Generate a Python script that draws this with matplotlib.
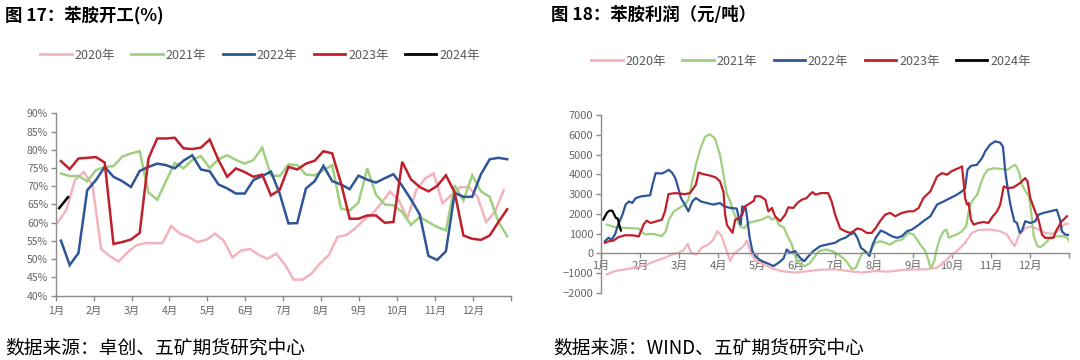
import numpy as np
import matplotlib
matplotlib.use("Agg")
import matplotlib.pyplot as plt
from matplotlib.lines import Line2D

plt.rcParams['font.family'] = ['Noto Sans CJK SC', 'DejaVu Sans']
plt.rcParams['axes.unicode_minus'] = True

# ---------------- data: 苯胺开工 (weekly, %) ----------------
years = ['2020年', '2021年', '2022年', '2023年', '2024年']
colors = ['#f2b3bd', '#9fd07f', '#2e5597', '#c0202b', '#000000']
months = ['1月', '2月', '3月', '4月', '5月', '6月', '7月', '8月', '9月', '10月', '11月', '12月']

rate_2020 = [60.0, 63.4, 71.7, 73.9, 70.3, 52.8, 50.8, 49.4, 51.9, 53.8, 54.4, 54.4, 54.4,
             59.1, 57.0, 56.1, 54.7, 55.3, 57.0, 55.1, 50.5, 52.4, 52.8, 51.2, 50.1, 51.5,
             48.5, 44.4, 44.4, 46.0, 48.8, 51.1, 56.1, 56.6, 58.4, 60.7, 62.5, 65.3, 68.5,
             66.2, 61.2, 68.9, 72.1, 73.5, 65.3, 67.6, 69.7, 69.8, 67.1, 60.2, 63.0, 68.9]
rate_2021 = [73.5, 72.8, 72.8, 71.4, 74.4, 75.3, 75.5, 78.1, 79.0, 79.6, 68.3, 66.3, 71.4,
             76.4, 74.9, 77.2, 78.3, 75.0, 77.4, 78.5, 77.2, 76.2, 77.2, 80.6, 73.0, 72.8,
             76.0, 75.8, 73.2, 73.0, 74.4, 75.8, 63.9, 63.4, 65.5, 74.9, 67.7, 65.0, 64.8,
             62.9, 59.4, 61.6, 60.2, 58.8, 57.9, 70.3, 66.1, 73.0, 68.6, 67.1, 60.2, 56.3]
rate_2022 = [55.1, 48.4, 51.7, 68.9, 71.7, 75.3, 72.6, 71.4, 69.8, 74.2, 75.3, 76.2, 75.8,
             74.9, 77.0, 78.5, 74.6, 74.1, 70.5, 69.4, 68.0, 68.0, 71.7, 72.8, 74.0, 68.0,
             59.8, 59.9, 69.4, 71.4, 75.6, 71.4, 70.5, 69.2, 72.9, 71.8, 71.0, 72.2, 73.3,
             70.1, 66.4, 62.3, 50.9, 49.8, 52.2, 68.2, 67.1, 67.1, 73.3, 77.4, 77.8, 77.4]
rate_2023 = [76.9, 74.7, 77.6, 77.8, 78.0, 76.5, 54.2, 54.7, 55.4, 57.2, 77.6, 83.1, 83.1,
             83.3, 80.4, 80.2, 80.6, 82.8, 77.2, 72.6, 74.9, 73.9, 72.6, 73.2, 67.5, 69.0,
             75.3, 74.6, 76.2, 77.0, 79.6, 79.0, 70.9, 61.1, 61.1, 62.0, 62.0, 60.0, 60.2,
             76.7, 71.9, 69.8, 68.6, 70.1, 73.0, 68.3, 56.5, 55.6, 55.3, 56.5, 60.2, 63.7]
rate_2024 = [64.0, 67.0]
week_offset = [0.2, 0.6, 0.6, 0.6, 0.4]

# ---------------- data: 苯胺利润 (元/吨), month position / value ----------------
p2020_m = [0.15, 0.36, 0.62, 0.87, 1.13, 1.38, 1.64, 1.81, 1.98, 2.11, 2.22, 2.31, 2.45, 2.58,
           2.75, 2.88, 2.98, 3.08, 3.18, 3.31, 3.39, 3.50, 3.65, 3.74, 3.85, 3.95, 4.16, 4.38,
           4.63, 4.97, 5.32, 5.66, 6.00, 6.34, 6.68, 7.03, 7.37, 7.71, 8.05, 8.35, 8.61, 8.78,
           8.95, 9.12, 9.33, 9.50, 9.68, 9.97, 10.23, 10.40, 10.53, 10.60, 10.70, 10.87, 11.04,
           11.21, 11.38, 11.55, 11.72, 11.89, 12.0]
p2020_v = [-1060, -890, -805, -720, -590, -390, -220, -50, 30, 150, 490, 30, -50, 285,
           450, 700, 1120, 920, 370, -390, -50, 120, 370, 650, -20, -350, -550, -755,
           -890, -970, -890, -820, -805, -890, -970, -890, -920, -840, -805, -805, -720, -470,
           -130, 120, 540, 1040, 1190, 1210, 1120, 960, 540, 370, 870, 1290, 1360,
           1210, 1040, 990, 1160, 1490, 1510]

p2021_m = [0.15, 0.36, 0.62, 0.96, 1.13, 1.34, 1.56, 1.66, 1.74, 1.87, 2.03, 2.15, 2.24, 2.32,
           2.43, 2.55, 2.67, 2.79, 2.92, 3.05, 3.14, 3.22, 3.31, 3.39, 3.48, 3.58, 3.67, 3.78,
           3.95, 4.12, 4.29, 4.38, 4.48, 4.56, 4.68, 4.78, 4.89, 4.99, 5.10, 5.23, 5.36, 5.49,
           5.59, 5.76, 5.93, 6.10, 6.27, 6.43, 6.53, 6.62, 6.70, 6.87, 7.03, 7.15, 7.28, 7.41,
           7.54, 7.71, 7.88, 8.01, 8.18, 8.31, 8.40, 8.44, 8.48, 8.54, 8.61, 8.69, 8.78, 8.85,
           8.91, 8.99, 9.12, 9.25, 9.36, 9.42, 9.50, 9.64, 9.72, 9.82, 9.91, 10.06, 10.23,
           10.41, 10.54, 10.62, 10.71, 10.79, 10.88, 10.97, 11.03, 11.09, 11.18, 11.26, 11.35,
           11.51, 11.68, 11.85, 11.94, 12.0]
p2021_v = [1460, 1330, 1290, 1260, 960, 990, 870, 1120, 1710, 2130, 2330, 2470, 2720, 3470,
           4480, 5320, 5910, 6020, 5820, 4970, 3980, 3050, 2630, 2130, 1710, 1330, 1290, 1540,
           1630, 1710, 1880, 1710, 1800, 1430, 1330, 870, 450, -220, -550, -640, -470, -130,
           120, 200, 120, -80, -350, -800, -720, -300, 30, 30, 540, 620, 540, 450,
           620, 700, 1040, 960, 450, 120, -390, -720, -640, -390, 285, 790, 1120, 1210,
           790, 870, 960, 1120, 1380, 2130, 2630, 2970, 3470, 3980, 4230, 4310, 4280,
           4230, 4400, 4480, 4140, 3470, 3140, 2890, 1960, 870, 370, 320, 450,
           790, 870, 870, 790, 620]

p2022_m = [0.10, 0.19, 0.27, 0.36, 0.44, 0.55, 0.63, 0.72, 0.80, 0.89, 1.04, 1.26, 1.32, 1.40,
           1.56, 1.66, 1.74, 1.83, 1.91, 1.98, 2.05, 2.14, 2.24, 2.34, 2.43, 2.56, 2.71, 2.88,
           3.05, 3.16, 3.31, 3.48, 3.54, 3.58, 3.62, 3.71, 3.75, 3.81, 3.88, 3.97, 4.12, 4.29,
           4.42, 4.55, 4.68, 4.76, 4.85, 4.97, 5.10, 5.21, 5.32, 5.44, 5.62, 5.79, 6.00, 6.13,
           6.26, 6.38, 6.49, 6.57, 6.66, 6.74, 6.83, 6.88, 6.96, 7.04, 7.17, 7.30, 7.45, 7.58,
           7.71, 7.84, 7.97, 8.15, 8.26, 8.44, 8.61, 8.78, 8.95, 9.12, 9.25, 9.33, 9.39, 9.48,
           9.63, 9.76, 9.85, 9.97, 10.10, 10.23, 10.30, 10.36, 10.42, 10.49, 10.54, 10.59,
           10.66, 10.73, 10.79, 10.87, 11.00, 11.13, 11.21, 11.34, 11.51, 11.68, 11.76, 11.81,
           11.89, 12.0]
p2022_v = [620, 790, 700, 960, 1460, 1960, 2470, 2630, 2550, 2800, 2890, 2940, 3470, 4060,
           4040, 4140, 4230, 4060, 3780, 3300, 2800, 2500, 2130, 2630, 2800, 2630, 2550, 2470,
           2550, 2380, 2300, 2270, 1710, 1460, 2380, 2300, 1710, 790, 120, -180, -390, -520,
           -640, -470, -250, 200, 30, 120, -220, -390, -130, 120, 370, 450, 540, 700,
           790, 960, 1040, 790, 285, 170, 0, -130, 450, 790, 1160, 1040, 870, 790,
           870, 1120, 1210, 1460, 1630, 1880, 2470, 2630, 2800, 2970, 3140, 3300, 4230, 4430,
           4480, 4810, 5180, 5500, 5670, 5600, 5400, 4140, 3300, 2470, 2050, 1630,
           1540, 1040, 1160, 1630, 1540, 1630, 1960, 2050, 2130, 2210, 1710, 1120,
           960, 920]

p2023_m = [0.10, 0.21, 0.32, 0.44, 0.62, 0.80, 0.97, 1.09, 1.17, 1.27, 1.43, 1.56, 1.64, 1.73,
           1.90, 2.15, 2.28, 2.34, 2.43, 2.50, 2.62, 2.79, 2.94, 3.05, 3.14, 3.18, 3.23, 3.31,
           3.37, 3.44, 3.54, 3.62, 3.69, 3.79, 3.92, 3.95, 4.08, 4.21, 4.29, 4.38, 4.46, 4.59,
           4.72, 4.80, 4.93, 5.03, 5.15, 5.27, 5.36, 5.42, 5.50, 5.63, 5.82, 5.91, 6.00, 6.13,
           6.26, 6.38, 6.47, 6.56, 6.68, 6.81, 6.94, 7.04, 7.15, 7.28, 7.41, 7.54, 7.71, 7.88,
           8.01, 8.14, 8.26, 8.44, 8.61, 8.74, 8.87, 8.97, 9.06, 9.16, 9.25, 9.29, 9.33, 9.38,
           9.42, 9.48, 9.55, 9.67, 9.80, 9.93, 10.01, 10.15, 10.23, 10.32, 10.42, 10.57, 10.74,
           10.87, 10.93, 11.00, 11.09, 11.21, 11.30, 11.38, 11.59, 11.68, 11.81, 11.94]
p2023_v = [540, 620, 650, 820, 920, 920, 860, 1460, 1660, 1540, 1630, 1710, 2130, 3000,
           3050, 3000, 3050, 3220, 3470, 4090, 4010, 3940, 3840, 3640, 3100, 1960, 1430, 1210,
           1040, 1710, 1800, 1960, 2380, 2500, 2670, 2890, 2890, 2720, 2130, 2300, 1880, 1630,
           1960, 2330, 2300, 2550, 2720, 2800, 3000, 3100, 2970, 3050, 3050, 2630, 1960, 1260,
           1120, 1040, 1120, 1260, 1210, 1040, 1040, 1290, 1630, 1960, 2050, 1880, 2050, 2130,
           2130, 2300, 2800, 3140, 3890, 4060, 3980, 4140, 4230, 4310, 4400, 3640, 2800, 2470,
           2550, 1710, 1460, 1540, 1590, 1540, 1800, 2130, 2470, 3390, 3300, 3340, 3560,
           3810, 3640, 2800, 2300, 1710, 960, 790, 790, 1210, 1630, 1880]

p2024_m = [0.06, 0.15, 0.21, 0.29, 0.33, 0.38, 0.43, 0.47, 0.51]
p2024_v = [1710, 2050, 2160, 2160, 2000, 1800, 1760, 1430, 1160]

# ---------------- figure ----------------
W, H = 1080, 360
fig = plt.figure(figsize=(W / 100, H / 100), dpi=100)
fig.patch.set_facecolor('white')

axis_col = '#8c8c8c'
tick_col = '#666666'


def frac(x0, y_top, x1, y_bot):
    return [x0 / W, 1 - y_bot / H, (x1 - x0) / W, (y_bot - y_top) / H]


def style_axes(ax, fs):
    for s in ['top', 'right']:
        ax.spines[s].set_visible(False)
    for s in ['left', 'bottom']:
        ax.spines[s].set_color(axis_col)
        ax.spines[s].set_linewidth(1.0)
    ax.tick_params(axis='both', colors=axis_col, labelcolor=tick_col, labelsize=fs,
                   direction='out', length=3.5, width=1.0, pad=2)
    ax.set_xticks(range(13))
    ax.set_xticklabels(months + [''])
    ax.set_xlim(0, 12)


def add_legend(cx, cy):
    handles = [Line2D([], [], color=c, lw=2.0) for c in colors]
    leg = fig.legend(handles, years, loc='center', bbox_to_anchor=(cx / W, 1 - cy / H),
                     ncol=5, frameon=False, fontsize=9, handlelength=2.5,
                     handletextpad=0.25, columnspacing=1.3, borderaxespad=0)
    for t in leg.get_texts():
        t.set_color('#595959')


# left chart
ax1 = fig.add_axes(frac(55.7, 113.3, 510.7, 295.7))
style_axes(ax1, 7.5)
ax1.tick_params(axis='x', pad=4)
rates = [rate_2020, rate_2021, rate_2022, rate_2023, rate_2024]
for vals, c, off in zip(rates, colors, week_offset):
    xw = (np.arange(len(vals)) + off) * 12 / 52
    ax1.plot(xw, vals, color=c, lw=1.8, solid_joinstyle='miter')
ax1.set_ylim(40, 90)
ax1.set_yticks(range(40, 91, 5))
ax1.set_yticklabels([f'{v}%' for v in range(40, 91, 5)])

# right chart
ax2 = fig.add_axes(frac(601, 115, 1069.3, 293))
style_axes(ax2, 8)
ax2.spines['bottom'].set_position(('data', 0))
profits = [(p2020_m, p2020_v), (p2021_m, p2021_v), (p2022_m, p2022_v),
           (p2023_m, p2023_v), (p2024_m, p2024_v)]
for (xm, vals), c in zip(profits, colors):
    ax2.plot(xm, vals, color=c, lw=1.6)
ax2.set_ylim(-2000, 7000)
ax2.set_yticks(range(-2000, 7001, 1000))

# titles, legends, sources
fig.text(5 / W, 1 - 15 / H, '图 17：苯胺开工(%)', fontsize=12.5, fontweight='bold', va='center')
fig.text(551 / W, 1 - 15 / H, '图 18：苯胺利润（元/吨）', fontsize=12.5, fontweight='bold', va='center')
add_legend(260, 55)
add_legend(811, 61)
fig.text(5 / W, 1 - 348 / H, '数据来源：卓创、五矿期货研究中心', fontsize=13.5, va='center')
fig.text(553 / W, 1 - 348 / H, '数据来源：WIND、五矿期货研究中心', fontsize=13.5, va='center')

fig.savefig('out.png', dpi=100)
